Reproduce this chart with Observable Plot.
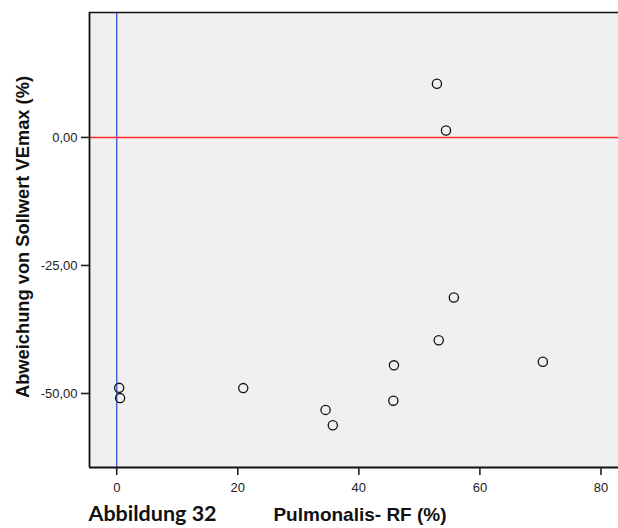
<!DOCTYPE html>
<html>
<head>
<meta charset="utf-8">
<script src="https://cdn.jsdelivr.net/npm/d3@7"></script>
<script src="https://cdn.jsdelivr.net/npm/@observablehq/plot@0.6"></script>
<style>
  body { margin: 0; background: white; }
</style>
</head>
<body>
<div id="chart"></div>
<script>
const pulmonalisRF = [0.4, 0.55, 20.9, 34.5, 35.7, 45.7, 45.8, 53.2, 55.7, 70.4, 52.9, 54.4];
const abweichung = [-48.9, -50.9, -48.95, -53.2, -56.2, -51.4, -44.5, -39.6, -31.25, -43.8, 10.5, 1.37];
const xTicks = [0, 20, 40, 60, 80];
const yTicks = [0, -25, -50];
const xDomain = [-4.5, 82.9];
const yDomain = [-64.45, 24.4];
const xLabel = "Pulmonalis- RF (%)";
const yLabel = "Abweichung von Sollwert VEmax (%)";
const caption = "Abbildung 32";

const data = pulmonalisRF.map((x, i) => ({x, y: abweichung[i]}));
const fmt = d => d.toFixed(2).replace(".", ",");

const chart = Plot.plot({
  width: 618,
  height: 528,
  marginLeft: 89,
  marginRight: 0,
  marginTop: 12,
  marginBottom: 61,
  style: {fontFamily: "'Liberation Sans', Arial, sans-serif", fontSize: "13px", background: "white", color: "#222"},
  x: {domain: xDomain},
  y: {domain: yDomain},
  marks: [
    Plot.frame({fill: "#f0f0f0", stroke: null}),
    Plot.ruleX([0], {stroke: "#3f5fd4", strokeWidth: 1.4}),
    Plot.ruleY([0], {stroke: "#ff2b2b", strokeWidth: 1.5}),
    Plot.ruleY([yDomain[1]], {stroke: "#111", strokeWidth: 1.6}),
    Plot.ruleY([yDomain[0]], {stroke: "#111", strokeWidth: 1.8}),
    Plot.ruleX([xDomain[0]], {stroke: "#111", strokeWidth: 1.8}),
    Plot.dot(data, {x: "x", y: "y", r: 4.6, stroke: "#111", strokeWidth: 1.3, fill: "none"}),
    Plot.axisX({ticks: xTicks, tickSize: 8, tickPadding: 7, label: null, tickFormat: d => String(d), strokeWidth: 1.6}),
    Plot.axisY({ticks: yTicks, tickSize: 8, tickPadding: 4, label: null, tickFormat: fmt, strokeWidth: 1.6}),
    Plot.text([yLabel], {frameAnchor: "left", textAnchor: "middle", rotate: -90, dx: -66, dy: -3, text: d => d, fontWeight: "bold", fontSize: 18.3, fill: "#111"}),
    Plot.text([xLabel], {frameAnchor: "bottom", textAnchor: "middle", dx: 6, dy: 53, text: d => d, fontWeight: "bold", fontSize: 19, fill: "#111"}),
    Plot.text([caption], {frameAnchor: "bottom-left", textAnchor: "start", dx: -1, dy: 53, text: d => d, fontWeight: "bold", fontSize: 21.5, fontFamily: "Lato, 'Open Sans', sans-serif", fill: "#111"})
  ]
});
document.getElementById("chart").appendChild(chart);
</script>
</body>
</html>
